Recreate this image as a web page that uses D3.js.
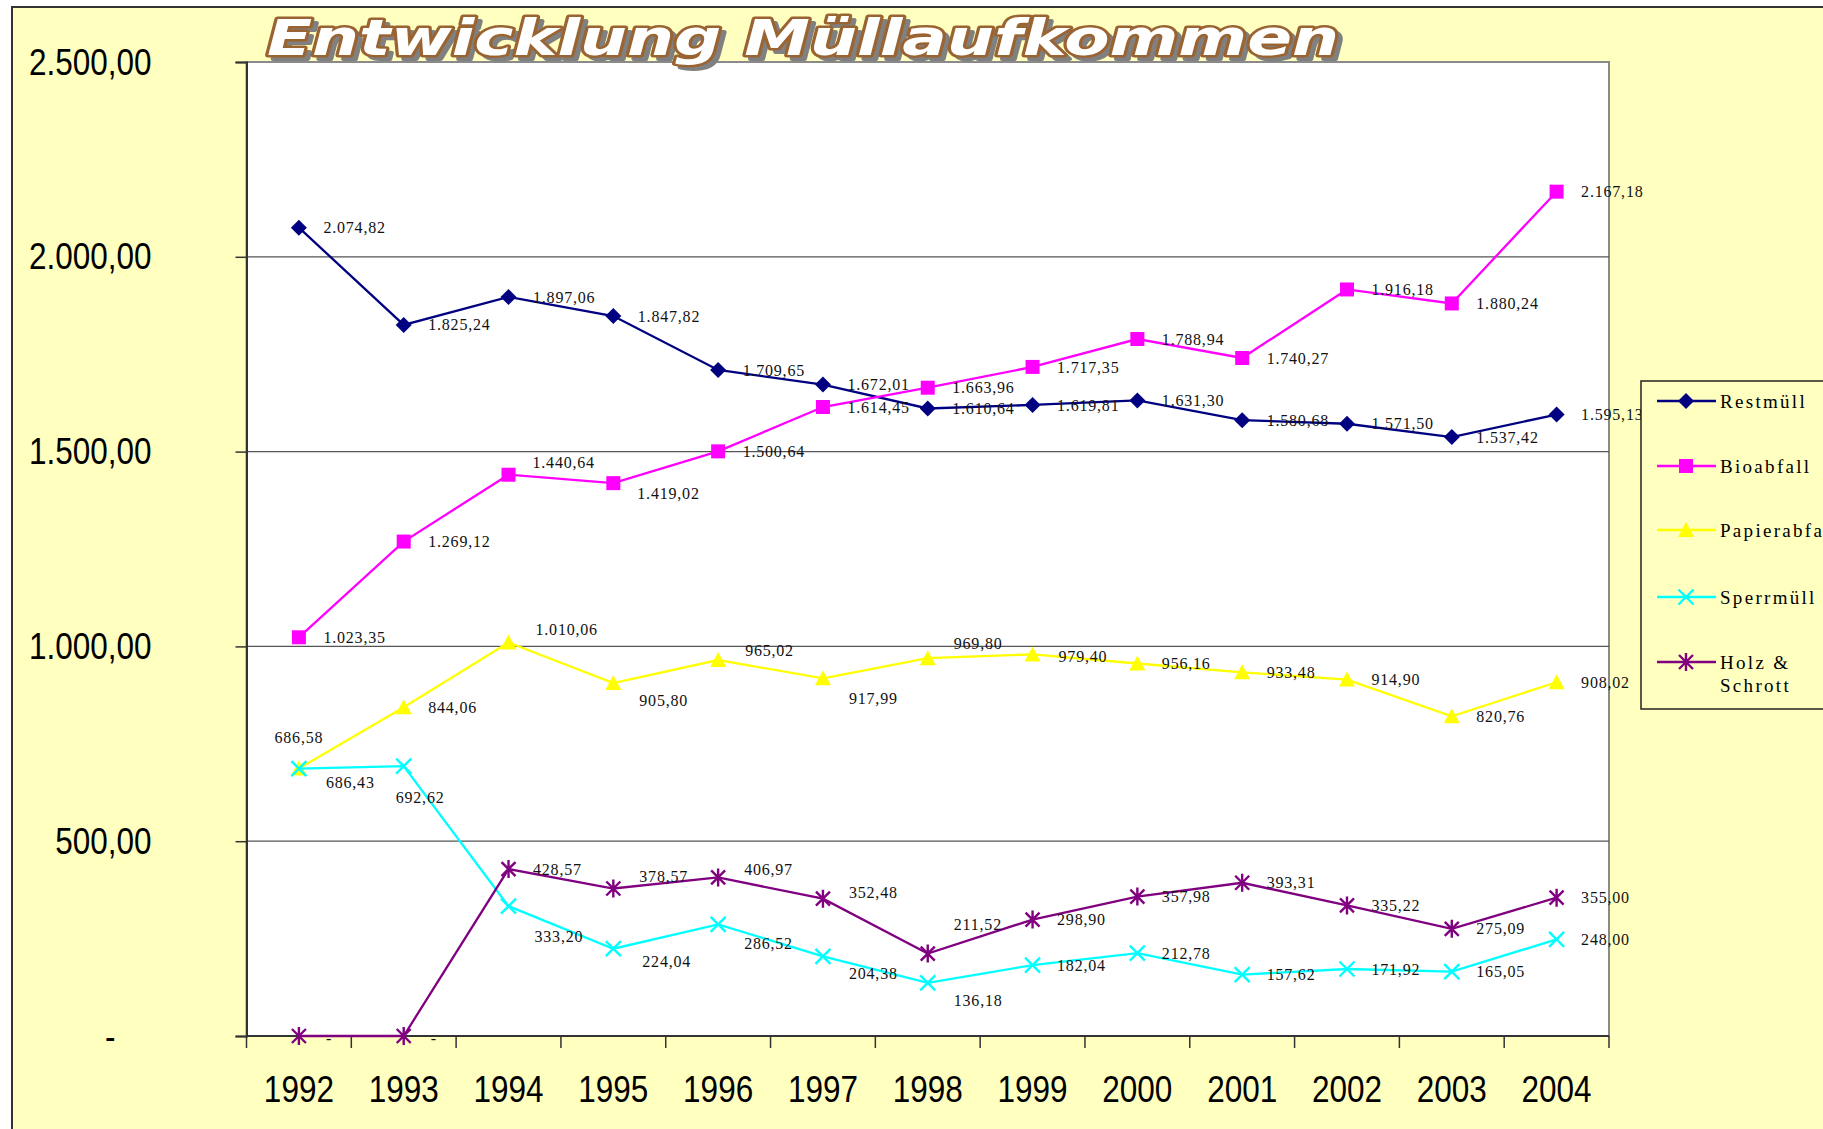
<!DOCTYPE html>
<html><head><meta charset="utf-8">
<script src="https://cdn.jsdelivr.net/npm/d3@7"></script>
<style>body{margin:0;background:#fff;overflow:hidden} svg{display:block}</style>
</head><body>
<svg id="c" width="1823" height="1129"></svg>
<script>
// ---- data ----
const years = ["1992","1993","1994","1995","1996","1997","1998","1999","2000","2001","2002","2003","2004"];
const restmuell    = [2074.82,1825.24,1897.06,1847.82,1709.65,1672.01,1610.64,1619.81,1631.30,1580.68,1571.50,1537.42,1595.13];
const bioabfall    = [1023.35,1269.12,1440.64,1419.02,1500.64,1614.45,1663.96,1717.35,1788.94,1740.27,1916.18,1880.24,2167.18];
const papierabfall = [686.58,844.06,1010.06,905.80,965.02,917.99,969.80,979.40,956.16,933.48,914.90,820.76,908.02];
const sperrmuell   = [686.43,692.62,333.20,224.04,286.52,204.38,136.18,182.04,212.78,157.62,171.92,165.05,248.00];
const holzSchrott  = [0,0,428.57,378.57,406.97,352.48,211.52,298.90,357.98,393.31,335.22,275.09,355.00];
const seriesNames  = ["Restmüll","Bioabfall","Papierabfall","Sperrmüll","Holz & Schrott"];
const yTickValues  = [0,500,1000,1500,2000,2500];
const titleText    = "Entwicklung Müllaufkommen";

// ---- styling / layout ----
const colors  = ["#000080","#FF00FF","#FFFF00","#00FFFF","#800080"];
const markers = ["diamond","square","triangle","x","star"];
const BG = "#FFFFC0";
// label nudges [dx, dy] (layout only); missing = default right
const labelNudge = [
  [],
  {2:[24,-12],3:[24,10]},
  {0:[0,-31,"middle"],2:[27,-13],3:[26,17],4:[27,-10],5:[26,20],6:[26,-15],7:[26,2]},
  {0:[27,14],1:[-8,31],2:[26,30],3:[29,13],4:[26,19],5:[26,17],6:[26,17]},
  {0:[27,2],1:[27,2],3:[26,-12],4:[26,-8],5:[26,-6],6:[26,-29]}
];

const svg = d3.select("#c");
const fmt = d3.formatLocale({decimal:",",thousands:".",grouping:[3],currency:["",""]}).format(",.2f");
const f = v => v === 0 ? "-" : fmt(v);

// background
svg.append("rect").attr("x",0).attr("y",0).attr("width",1823).attr("height",1129).attr("fill","#fff");
svg.append("rect").attr("x",12).attr("y",7).attr("width",1900).attr("height",1200)
  .attr("fill",BG).attr("stroke","#333").attr("stroke-width",2);

const X0 = 246.5, X1 = 1609, Y0 = 1036, Y1 = 62;
const x = d3.scaleBand().domain(years).range([X0,X1]);
const cx = d => x(d) + x.bandwidth()/2;
const y = d3.scaleLinear().domain([0,2500]).range([Y0,Y1]);

// plot area
svg.append("rect").attr("x",X0).attr("y",Y1).attr("width",X1-X0).attr("height",Y0-Y1)
  .attr("fill","#fff").attr("stroke","#8a8a8a").attr("stroke-width",2);

// gridlines
svg.append("g").selectAll("line").data(yTickValues.filter(v=>v>0 && v<2500)).join("line")
  .attr("x1",X0).attr("x2",X1).attr("y1",d=>y(d)).attr("y2",d=>y(d))
  .attr("stroke","#555").attr("stroke-width",1.2);

// y axis
const yAx = svg.append("g").attr("transform",`translate(${X0},0)`)
  .call(d3.axisLeft(y).tickValues(yTickValues).tickSize(11).tickPadding(84).tickFormat(f));
yAx.select(".domain").attr("stroke","#333").attr("stroke-width",2);
yAx.selectAll(".tick line").attr("stroke","#333").attr("stroke-width",1.5);
yAx.selectAll(".tick text").attr("font-family","'Liberation Sans', Arial, sans-serif")
  .attr("font-size",31.5).attr("fill","#000").attr("transform","scale(1,1.2)")
  .attr("x",d=> d===0 ? -131 : -95);

// x axis (boundary ticks)
const bounds = years.map(d=>x(d)).concat([X1]);
svg.append("line").attr("x1",X0).attr("x2",X1).attr("y1",Y0).attr("y2",Y0)
  .attr("stroke","#333").attr("stroke-width",2);
svg.append("g").selectAll("line").data(bounds).join("line")
  .attr("x1",d=>d).attr("x2",d=>d).attr("y1",Y0).attr("y2",Y0+12)
  .attr("stroke","#333").attr("stroke-width",1.5);
svg.append("g").selectAll("text").data(years).join("text")
  .attr("transform",d=>`translate(${cx(d)},1102) scale(1,1.18)`)
  .attr("text-anchor","middle").attr("font-family","'Liberation Sans', Arial, sans-serif")
  .attr("font-size",31.5).attr("fill","#000").text(d=>d);

// markers
function markerPath(type){
  const p = d3.path();
  if(type==="diamond"){p.moveTo(0,-8);p.lineTo(8,0);p.lineTo(0,8);p.lineTo(-8,0);p.closePath();}
  else if(type==="square"){p.rect(-7,-7,14,14);}
  else if(type==="triangle"){p.moveTo(0,-8);p.lineTo(8,7);p.lineTo(-8,7);p.closePath();}
  else if(type==="x"){p.moveTo(-7.5,-7.5);p.lineTo(7.5,7.5);p.moveTo(7.5,-7.5);p.lineTo(-7.5,7.5);}
  else if(type==="star"){p.moveTo(-7,-7);p.lineTo(7,7);p.moveTo(7,-7);p.lineTo(-7,7);p.moveTo(0,-9);p.lineTo(0,9);}
  return p.toString();
}
function drawMarker(g, type, color){
  const filled = type==="diamond"||type==="square"||type==="triangle";
  g.append("path").attr("d",markerPath(type))
    .attr("fill",filled?color:"none").attr("stroke",color).attr("stroke-width",filled?0:2.4);
}

const allSeries = [restmuell,bioabfall,papierabfall,sperrmuell,holzSchrott];
const line = d3.line().x((d,i)=>cx(years[i])).y(d=>y(d));
const gLines = svg.append("g");
allSeries.forEach((s,k)=>{
  const g = gLines.append("g");
  g.append("path").datum(s).attr("d",line).attr("fill","none")
    .attr("stroke",colors[k]).attr("stroke-width",2.3);
  s.forEach((v,i)=>{
    drawMarker(g.append("g").attr("transform",`translate(${cx(years[i])},${y(v)})`), markers[k], colors[k]);
  });
});

// data labels
const gLab = svg.append("g").attr("font-family","'Liberation Serif','Times New Roman',serif")
  .attr("font-size",16).attr("letter-spacing",0.8).attr("fill","#111");
allSeries.forEach((s,k)=>{
  s.forEach((v,i)=>{
    const n = labelNudge[k][i] || [24.5,0];
    gLab.append("text").attr("x",cx(years[i])+n[0]).attr("y",y(v)+n[1]).attr("dy","0.35em")
      .attr("text-anchor",n[2]||"start").text(f(v));
  });
});

// legend
const LX = 1641, LY = 381;
svg.append("rect").attr("x",LX).attr("y",LY).attr("width",300).attr("height",328)
  .attr("fill",BG).attr("stroke","#222").attr("stroke-width",1.5);
const legY = [401,466,530,597,662];
seriesNames.forEach((name,k)=>{
  const g = svg.append("g").attr("transform",`translate(0,${legY[k]})`);
  g.append("line").attr("x1",1657).attr("x2",1716).attr("y1",0).attr("y2",0)
    .attr("stroke",colors[k]).attr("stroke-width",2.3);
  drawMarker(g.append("g").attr("transform","translate(1686,0)"), markers[k], colors[k]);
  const t = g.append("text").attr("x",1720).attr("y",0)
    .attr("font-family","'Liberation Serif','Times New Roman',serif").attr("font-size",19)
    .attr("letter-spacing",2.3).attr("fill","#000");
  const parts = name === "Holz & Schrott" ? ["Holz &","Schrott"] : [name];
  parts.forEach((p,j)=> t.append("tspan").attr("x",1720).attr("dy", j===0?"0.35em":"1.25em").text(p));
});

// title
const tg = svg.append("g");
tg.append("text").attr("x",272).attr("y",59).text(titleText)
  .attr("font-family","'DejaVu Sans',sans-serif").attr("font-weight","bold").attr("font-style","italic")
  .attr("font-size",50).attr("textLength",1072).attr("lengthAdjust","spacingAndGlyphs")
  .attr("fill","#808080").attr("stroke","#808080").attr("stroke-width",4).attr("stroke-linejoin","round");
tg.append("text").attr("x",267).attr("y",54.6).text(titleText)
  .attr("font-family","'DejaVu Sans',sans-serif").attr("font-weight","bold").attr("font-style","italic")
  .attr("font-size",50).attr("textLength",1072).attr("lengthAdjust","spacingAndGlyphs")
  .attr("fill","#fff").attr("stroke","#9A6432").attr("stroke-width",5).attr("stroke-linejoin","round")
  .attr("paint-order","stroke");
</script>
</body></html>
